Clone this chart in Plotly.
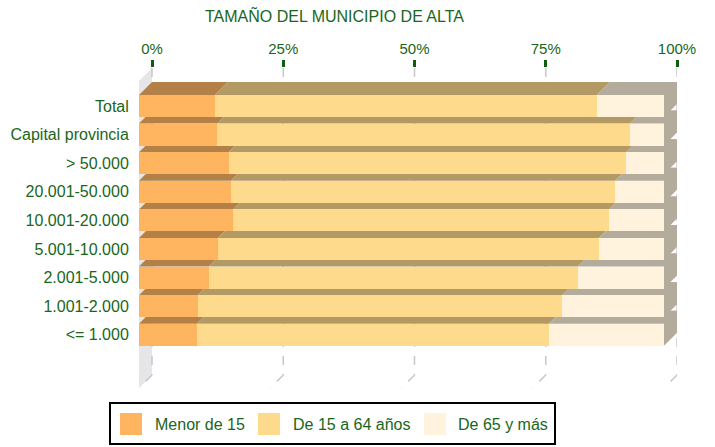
import plotly.graph_objects as go

# ---------------- data ----------------
categories = ["Total", "Capital provincia", "> 50.000", "20.001-50.000",
              "10.001-20.000", "5.001-10.000", "2.001-5.000", "1.001-2.000", "<= 1.000"]
menor_15 = [14.5, 14.9, 17.1, 17.5, 17.9, 15.0, 13.3, 11.2, 11.0]
de_15_64 = [72.7, 78.6, 75.7, 73.2, 71.6, 72.6, 70.3, 69.4, 67.1]
de_65 = [12.8, 6.5, 7.2, 9.3, 10.5, 12.4, 16.4, 19.4, 21.9]
series_names = ["Menor de 15", "De 15 a 64 años", "De 65 y más"]
tick_values = [0, 25, 50, 75, 100]
tick_labels = ["0%", "25%", "50%", "75%", "100%"]
title_text = "TAMAÑO DEL MUNICIPIO DE ALTA"

# ---------------- style / layout ----------------
W, H = 715, 447
PL, PR, PT, PB = 139, 677, 68, 388          # plot-area pixel box
PX_PER_UNIT = 5.25                            # pixels per percent (front face)
DEPTH = 13.0                                  # 3D depth in pixels
SPACING = 28.6                                # pixels between category rows
FIRST_CENTER = 106                            # pixel centre of first row
BAR_PX = 22.0                                 # front face height (px)

front_colors = ["#FFB55F", "#FEDB8C", "#FFF3DD"]
top_colors = ["#B38047", "#B39A65", "#B3AB9C"]
side_color = "#B3AB9C"
wall_color = "#E6E6E8"
grid_color = "#C8C8CC"
text_green = "#1A661A"
tick_green = "#0E5E0E"
FONT = "Liberation Sans, Arial, sans-serif"

dxp = DEPTH / PX_PER_UNIT
x_range = [0, (PR - PL) / PX_PER_UNIT]
dyc = DEPTH / SPACING
y_top = (PT - FIRST_CENTER) / SPACING
y_bot = (PB - FIRST_CENTER) / SPACING
bw = BAR_PX / SPACING

positions = list(range(len(categories)))
series = [menor_15, de_15_64, de_65]

fig = go.Figure()

# front faces as stacked horizontal bars
for name, vals, col in zip(series_names, series, front_colors):
    fig.add_trace(go.Bar(
        y=positions, x=vals, orientation="h", width=bw, name=name,
        marker=dict(color=col, line=dict(width=0)), showlegend=False,
        hovertemplate="%{customdata}: %{x}%<extra>" + name + "</extra>",
        customdata=categories,
    ))

# dummy trace to activate top axis
fig.add_trace(go.Scatter(x=[None], y=[None], xaxis="x2", yaxis="y",
                         showlegend=False, hoverinfo="skip"))

shapes = []
# left wall
shapes.append(dict(type="path", xref="x", yref="y", layer="below",
                   path=f"M 0,{y_top + dyc} L {dxp},{y_top} L {dxp},{y_bot - dyc} L 0,{y_bot} Z",
                   fillcolor=wall_color, line=dict(width=0)))
# gridlines (back wall + floor)
for t in tick_values:
    shapes.append(dict(type="line", xref="x", yref="y", layer="below",
                       x0=t + dxp, y0=y_top, x1=t + dxp, y1=y_bot - dyc,
                       line=dict(color=grid_color, width=1.5, dash="dash")))
    shapes.append(dict(type="line", xref="x", yref="y", layer="below",
                       x0=t + dxp, y0=y_bot - dyc, x1=t, y1=y_bot,
                       line=dict(color=grid_color, width=1.5, dash="dash")))

# top and side faces, drawn from the bottom row upward
for i in reversed(positions):
    top = i - bw / 2
    bot = i + bw / 2
    start = 0.0
    for k, vals in enumerate(series):
        end = start + vals[i]
        shapes.append(dict(type="path", xref="x", yref="y", layer="below",
                           path=(f"M {start},{top} L {end},{top} L {end + dxp},{top - dyc} "
                                 f"L {start + dxp},{top - dyc} Z"),
                           fillcolor=top_colors[k], line=dict(width=0)))
        start = end
    shapes.append(dict(type="path", xref="x", yref="y", layer="below",
                       path=(f"M {start},{top - dyc} L {start + dxp},{top - dyc} "
                             f"L {start + dxp},{bot - dyc} L {start},{bot} Z"),
                       fillcolor=side_color, line=dict(width=0)))

# manual legend (paper coordinates from pixels)
def px_x(px):
    return (px - PL) / (PR - PL)

def px_y(py):
    return (PB - py) / (PB - PT)

annotations = []
shapes.append(dict(type="rect", xref="paper", yref="paper", layer="above",
                   x0=px_x(110), x1=px_x(555), y0=px_y(403), y1=px_y(444),
                   line=dict(color="#000000", width=2), fillcolor="rgba(0,0,0,0)"))
sq_left = [120, 258, 424]
txt_left = [153, 291, 456]
for name, col, sx, tx in zip(series_names, front_colors, sq_left, txt_left):
    shapes.append(dict(type="rect", xref="paper", yref="paper", layer="above",
                       x0=px_x(sx), x1=px_x(sx + 22), y0=px_y(413), y1=px_y(435),
                       fillcolor=col, line=dict(width=0)))
    annotations.append(dict(xref="paper", yref="paper", x=px_x(tx), y=px_y(424),
                            xanchor="left", yanchor="middle", showarrow=False,
                            text=name, font=dict(size=16, color=text_green, family=FONT)))

annotations.append(dict(xref="paper", yref="paper", x=px_x(334), y=px_y(16),
                        xanchor="center", yanchor="middle", showarrow=False,
                        text=title_text, font=dict(size=16, color=text_green, family=FONT)))

fig.update_layout(
    width=W, height=H,
    margin=dict(l=PL, r=W - PR, t=PT, b=H - PB, pad=0, autoexpand=False),
    paper_bgcolor="white", plot_bgcolor="white",
    barmode="stack", bargap=0,
    showlegend=False,
    font=dict(family=FONT, color=text_green),
    xaxis=dict(range=x_range, visible=False, fixedrange=True, automargin=False),
    xaxis2=dict(type="linear", overlaying="x", side="top", anchor="y",
                range=[x_range[0] - dxp, x_range[1] - dxp],
                tickvals=tick_values, ticktext=tick_labels,
                ticks="outside", ticklen=7, tickwidth=2.5, tickcolor=tick_green,
                showgrid=False, zeroline=False, showline=False, automargin=False,
                tickfont=dict(size=15, color=text_green, family=FONT), fixedrange=True),
    yaxis=dict(range=[y_bot, y_top], tickvals=positions, ticktext=categories,
               showgrid=False, zeroline=False, showline=False, automargin=False,
               ticks="outside", ticklen=6, tickcolor="rgba(0,0,0,0)",
               tickfont=dict(size=16, color=text_green, family=FONT), fixedrange=True),
    shapes=shapes,
    annotations=annotations,
)

fig.write_html("out.html", config={"displayModeBar": False},
               post_script="document.body.style.margin='0';document.body.style.overflow='hidden';")
